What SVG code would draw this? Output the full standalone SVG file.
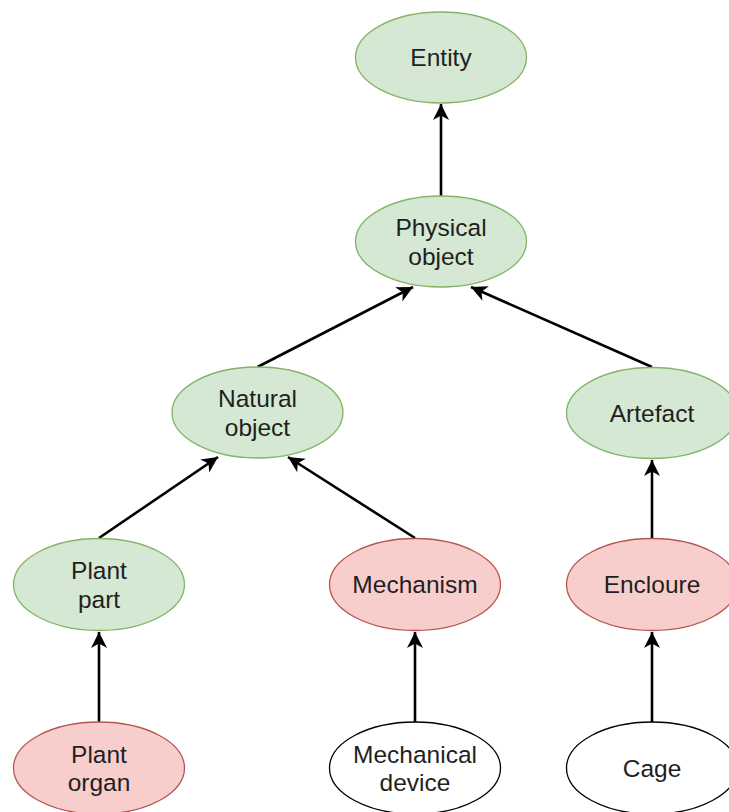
<svg xmlns="http://www.w3.org/2000/svg" width="729" height="812" viewBox="0 0 729 812">
<style>
.g{fill:#d5e8d4;stroke:#82b366;stroke-width:1.3}
.r{fill:#f8cecc;stroke:#b85450;stroke-width:1.3}
.w{fill:#ffffff;stroke:#000000;stroke-width:1.3}
text{font-family:"Liberation Sans",Arial,sans-serif;font-size:24.5px;fill:#1f1f1f;text-anchor:middle}
.e{fill:none;stroke:#000000;stroke-width:2.6;marker-end:url(#arr)}
</style>
<defs>
<marker id="arr" markerUnits="userSpaceOnUse" markerWidth="20" markerHeight="20" refX="16" refY="8" orient="auto" overflow="visible">
<path d="M0,0 L16,8 L0,16 L4.5,8 Z" fill="#000000"/>
</marker>
</defs>
<rect width="729" height="812" fill="#ffffff"/>
<g id="connectors">
<path class="e" d="M441,196 L441,104"/>
<path class="e" d="M257.5,367 L413,287"/>
<path class="e" d="M652,367 L471,287"/>
<path class="e" d="M99,538 L218,457"/>
<path class="e" d="M415,538 L288,457"/>
<path class="e" d="M652,539 L652,460"/>
<path class="e" d="M99,722 L99,632"/>
<path class="e" d="M415,722 L415,632"/>
<path class="e" d="M652,722 L652,632"/>
</g>
<g id="entity"><ellipse class="g" cx="441" cy="57.5" rx="85.5" ry="45.5"/><text x="441" y="66">Entity</text></g>
<g id="physical-object"><ellipse class="g" cx="441" cy="241.5" rx="85.5" ry="45.5"/><text x="441" y="236">Physical</text><text x="441" y="264.5">object</text></g>
<g id="natural-object"><ellipse class="g" cx="257.5" cy="412.5" rx="85.5" ry="45.5"/><text x="257.5" y="407">Natural</text><text x="257.5" y="435.5">object</text></g>
<g id="artefact"><ellipse class="g" cx="652" cy="413" rx="85.5" ry="45.5"/><text x="652" y="421.5">Artefact</text></g>
<g id="plant-part"><ellipse class="g" cx="99" cy="584.5" rx="85.5" ry="46"/><text x="99" y="579">Plant</text><text x="99" y="607.5">part</text></g>
<g id="mechanism"><ellipse class="r" cx="415" cy="584.5" rx="85.5" ry="46"/><text x="415" y="593">Mechanism</text></g>
<g id="encloure"><ellipse class="r" cx="652" cy="584.5" rx="85.5" ry="46"/><text x="652" y="593">Encloure</text></g>
<g id="plant-organ"><ellipse class="r" cx="99" cy="768" rx="85.5" ry="46"/><text x="99" y="762.5">Plant</text><text x="99" y="791">organ</text></g>
<g id="mechanical-device"><ellipse class="w" cx="415" cy="768" rx="85.5" ry="46"/><text x="415" y="762.5">Mechanical</text><text x="415" y="791">device</text></g>
<g id="cage"><ellipse class="w" cx="652" cy="768" rx="85.5" ry="46"/><text x="652" y="776.5">Cage</text></g>
</svg>
